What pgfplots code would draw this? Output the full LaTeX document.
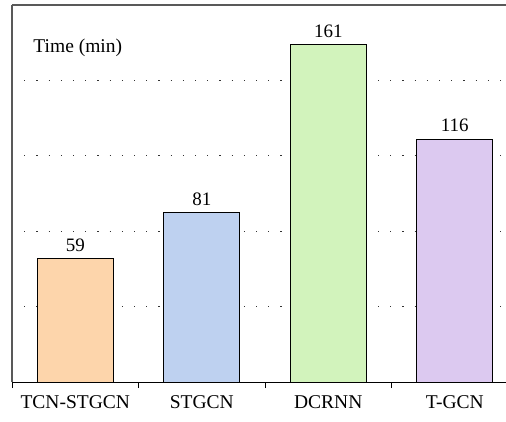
\documentclass[border=0pt]{standalone}
\usepackage{pgfplots}
\pgfplotsset{compat=1.18}
\usepackage{fontspec}
\setmainfont{Liberation Serif}
\definecolor{cA}{HTML}{FDD5AB}
\definecolor{cB}{HTML}{BED1F0}
\definecolor{cC}{HTML}{D2F3BC}
\definecolor{cD}{HTML}{DCC9F0}
\begin{document}
\fontsize{19.5}{23}\selectfont
\begin{tikzpicture}
\begin{axis}[
  scale only axis, width=494pt, height=377pt,
  /pgf/number format/assume math mode=true,
  ybar, bar width=0.6, bar shift=0,
  xmin=-0.5, xmax=3.405, ymin=0, ymax=180,
  axis lines*=left,
  x axis line style={black, line width=0.8pt},
  y axis line style={black!65, line width=1.3pt},
  xtick={0,1,2,3},
  xticklabels={TCN-STGCN,STGCN,DCRNN,T-GCN},
  major x tick style={draw=none},
  minor xtick={-0.5,0.5,1.5,2.5},
  minor tick length=6pt,
  tick align=outside,
  minor x tick style={black, line width=0.8pt},
  ytick={36,72,108,144}, yticklabels={},
  major y tick style={draw=none},
  ymajorgrids,
  grid style={black!80, line width=1.1pt, dash pattern=on 1.1pt off 11.1pt},
  xticklabel style={font=\fontsize{19.5}{23}\selectfont, yshift=-3pt},
  nodes near coords,
  nodes near coords style={font=\fontsize{19}{23}\selectfont, black},
]
\addplot[draw=black, line width=0.8pt, fill=cA] coordinates {(0,59)};
\addplot[draw=black, line width=0.8pt, fill=cB] coordinates {(1,81)};
\addplot[draw=black, line width=0.8pt, fill=cC] coordinates {(2,161)};
\addplot[draw=black, line width=0.8pt, fill=cD] coordinates {(3,116)};
\node[anchor=base west, font=\fontsize{19.5}{23}\selectfont, inner sep=0pt] at (rel axis cs:0.043,0.873) {Time (min)};
\draw[black!65, line width=1.5pt] (rel axis cs:0,1) -- (rel axis cs:1,1);
\end{axis}
\pgfresetboundingbox
\path ([xshift=-12pt,yshift=-39pt]current axis.south west) rectangle ([yshift=5pt]current axis.north east);
\end{tikzpicture}
\end{document}
